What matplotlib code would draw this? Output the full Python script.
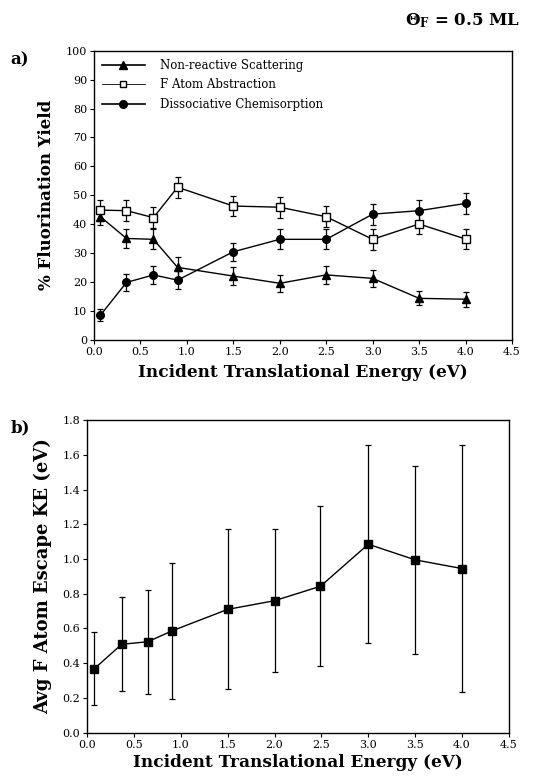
import matplotlib
matplotlib.use("Agg")
import matplotlib.pyplot as plt
from matplotlib.lines import Line2D
import numpy as np

# panel a: fluorination yields vs incident energy
energy_a = [0.07, 0.35, 0.64, 0.9, 1.5, 2.0, 2.5, 3.0, 3.5, 4.0]
nonreactive = [42.6, 35.1, 34.8, 25.1, 22.1, 19.6, 22.5, 21.3, 14.4, 14.1]
nonreactive_err = [2.8, 3.3, 3.5, 3.5, 3.0, 3.0, 3.0, 3.0, 2.4, 2.6]
abstraction = [44.9, 44.7, 42.3, 52.8, 46.3, 45.9, 42.6, 34.8, 40.1, 34.9]
abstraction_err = [3.6, 3.6, 3.6, 3.6, 3.6, 3.6, 3.6, 3.6, 3.6, 3.6]
chemisorption = [8.6, 19.9, 22.5, 20.7, 30.5, 34.8, 34.8, 43.5, 44.7, 47.2]
chemisorption_err = [2.0, 3.0, 3.0, 3.0, 3.2, 3.4, 3.4, 3.6, 3.6, 3.6]

# panel b: average F atom escape kinetic energy
energy_b = [0.075, 0.37, 0.65, 0.91, 1.5, 2.0, 2.49, 3.0, 3.5, 4.0]
escape_ke = [0.367, 0.509, 0.524, 0.587, 0.71, 0.76, 0.843, 1.085, 0.995, 0.945]
escape_err = [0.21, 0.27, 0.30, 0.39, 0.46, 0.41, 0.46, 0.57, 0.54, 0.71]

xticks = np.arange(0, 4.51, 0.5)

plt.rcParams["font.family"] = "DejaVu Serif"
plt.rcParams["mathtext.fontset"] = "dejavuserif"
plt.rcParams["axes.linewidth"] = 1.0

fig = plt.figure(figsize=(5.42, 7.82), dpi=100)
ax_a = fig.add_axes([0.1734, 0.5652, 0.7712, 0.37])
ax_b = fig.add_axes([0.1605, 0.063, 0.7785, 0.3999])

ebar = dict(color="black", lw=1.0, elinewidth=0.9, capsize=2.5, capthick=0.9)
ax_a.errorbar(energy_a, nonreactive, yerr=nonreactive_err, marker="^", ms=6,
              mfc="black", mec="black", **ebar)
ax_a.errorbar(energy_a, abstraction, yerr=abstraction_err, marker="s", ms=6,
              mfc="white", mec="black", **ebar)
ax_a.errorbar(energy_a, chemisorption, yerr=chemisorption_err, marker="o", ms=5.5,
              mfc="black", mec="black", **ebar)

handles = [
    Line2D([], [], color="black", lw=1.2, marker="^", ms=6, mfc="black"),
    Line2D([], [], color="black", lw=0.6, marker="s", ms=5, mfc="white"),
    Line2D([], [], color="black", lw=1.2, marker="o", ms=5.5, mfc="black"),
]
labels = ["Non-reactive Scattering", "F Atom Abstraction", "Dissociative Chemisorption"]
ax_a.legend(handles, labels, loc="upper left", frameon=False, fontsize=8.5,
            handlelength=3.6, handletextpad=1.3, labelspacing=0.55,
            borderaxespad=0.4, borderpad=0.3)

ax_a.set_xlim(0, 4.5)
ax_a.set_ylim(0, 100)
ax_a.set_xticks(xticks)
ax_a.set_xticklabels([f"{t:.1f}" for t in xticks])
ax_a.set_yticks(np.arange(0, 101, 10))
ax_a.set_xlabel("Incident Translational Energy (eV)", fontsize=12.2, fontweight="bold", labelpad=5)
ax_a.set_ylabel("% Fluorination Yield", fontsize=12, fontweight="bold", labelpad=8)

ax_b.errorbar(energy_b, escape_ke, yerr=escape_err, marker="s", ms=6,
              mfc="black", mec="black", **ebar)
ax_b.set_xlim(0, 4.5)
ax_b.set_ylim(0, 1.8)
ax_b.set_xticks(xticks)
ax_b.set_xticklabels([f"{t:.1f}" for t in xticks])
ax_b.set_yticks(np.arange(0, 1.81, 0.2))
ax_b.set_yticklabels([f"{t:.1f}" for t in np.arange(0, 1.81, 0.2)])
ax_b.set_xlabel("Incident Translational Energy (eV)", fontsize=12.2, fontweight="bold", labelpad=3)
ax_b.set_ylabel("Avg F Atom Escape KE (eV)", fontsize=13, fontweight="bold", labelpad=7)

for ax in (ax_a, ax_b):
    ax.tick_params(direction="out", length=3, width=0.8, labelsize=8, pad=2)

fig.text(0.02, 0.923, "a)", fontsize=12, fontweight="bold", va="center")
fig.text(0.02, 0.453, "b)", fontsize=12, fontweight="bold", va="center")
fig.text(0.96, 0.973, r"Θ$_\mathbf{F}$ = 0.5 ML", fontsize=12, fontweight="bold",
         ha="right", va="center")

fig.savefig("out.png", dpi=100)
